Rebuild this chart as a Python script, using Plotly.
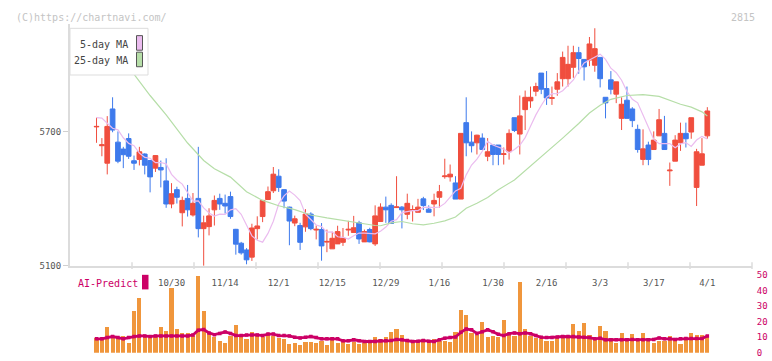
import pandas as pd
import plotly.graph_objects as go

# ---------------- data ----------------
jp_holidays = ["2025-10-13", "2025-11-03", "2025-11-24", "2025-12-31", "2026-01-01", "2026-01-02",
               "2026-01-12", "2026-02-11", "2026-02-23", "2026-03-20"]
trade_days = pd.bdate_range("2025-10-09", "2026-04-01", freq="C", holidays=jp_holidays)
dates = [f"{d.month}/{d.day}" for d in trade_days]

tick_labels = ["10/30", "11/14", "12/1", "12/15", "12/29", "1/16", "1/30", "2/16", "3/3", "3/17", "4/1"]

open_ = [5720, 5636, 5558, 5800, 5652, 5621, 5668, 5569, 5575, 5599,
         5570, 5536, 5539, 5479, 5376, 5440, 5337, 5401, 5327, 5401,
         5266, 5275, 5350, 5401, 5379, 5409, 5263, 5201, 5171, 5139,
         5266, 5320, 5396, 5435, 5500, 5440, 5362, 5291, 5280, 5274,
         5331, 5260, 5262, 5206, 5176, 5198, 5205, 5260, 5249, 5292,
         5207, 5262, 5198, 5298, 5362, 5370, 5360, 5362, 5330, 5348,
         5339, 5399, 5353, 5376, 5406, 5498, 5497, 5470, 5398, 5739,
         5652, 5649, 5670, 5589, 5639, 5639, 5597, 5609, 5761, 5688,
         5797, 5836, 5879, 5960, 5891, 5847, 5888, 5935, 5935, 5986,
         6051, 6021, 6018, 5995, 6030, 5852, 5930, 5866, 5758, 5839,
         5800, 5709, 5575, 5639, 5619, 5680, 5691, 5524, 5567, 5649,
         5691, 5697, 5450, 5549, 5680]
high = [5761, 5670, 5768, 5852, 5700, 5631, 5691, 5592, 5631, 5602,
        5572, 5594, 5570, 5580, 5469, 5453, 5409, 5461, 5425, 5631,
        5324, 5357, 5414, 5422, 5418, 5431, 5265, 5207, 5179, 5288,
        5321, 5394, 5454, 5541, 5531, 5442, 5364, 5324, 5292, 5353,
        5339, 5280, 5291, 5262, 5252, 5279, 5269, 5301, 5323, 5301,
        5262, 5270, 5370, 5379, 5409, 5379, 5500, 5367, 5422, 5370,
        5399, 5408, 5370, 5422, 5461, 5578, 5552, 5500, 5691, 5852,
        5700, 5685, 5691, 5670, 5639, 5639, 5628, 5709, 5761, 5860,
        5882, 5900, 5917, 5960, 5969, 5900, 5960, 6056, 6082, 6082,
        6077, 6021, 6121, 6160, 6030, 5852, 5969, 5921, 5852, 5900,
        5808, 5730, 5709, 5654, 5700, 5800, 5769, 5561, 5683, 5739,
        5739, 5761, 5622, 5670, 5808]
low = [5649, 5589, 5508, 5696, 5558, 5536, 5577, 5528, 5548, 5508,
       5428, 5519, 5450, 5359, 5357, 5378, 5276, 5320, 5320, 5227,
       5100, 5236, 5280, 5350, 5333, 5310, 5150, 5150, 5107, 5122,
       5218, 5295, 5394, 5425, 5430, 5357, 5192, 5277, 5171, 5252,
       5259, 5218, 5123, 5161, 5176, 5198, 5189, 5234, 5249, 5198,
       5207, 5205, 5189, 5298, 5292, 5289, 5360, 5267, 5308, 5298,
       5339, 5349, 5339, 5321, 5360, 5489, 5476, 5398, 5398, 5589,
       5606, 5597, 5619, 5567, 5549, 5549, 5552, 5574, 5697, 5597,
       5706, 5805, 5857, 5866, 5818, 5818, 5859, 5900, 5900, 5939,
       5957, 5927, 5991, 5966, 5896, 5758, 5865, 5826, 5706, 5758,
       5719, 5605, 5549, 5549, 5619, 5680, 5619, 5457, 5567, 5613,
       5628, 5667, 5367, 5549, 5667]
close = [5722, 5640, 5722, 5706, 5567, 5596, 5589, 5558, 5609, 5549,
         5497, 5592, 5528, 5376, 5422, 5406, 5392, 5350, 5379, 5266,
         5292, 5323, 5392, 5376, 5367, 5320, 5197, 5158, 5127, 5269,
         5278, 5392, 5431, 5509, 5450, 5389, 5300, 5310, 5205, 5331,
         5266, 5263, 5189, 5209, 5223, 5253, 5223, 5263, 5270, 5220,
         5253, 5207, 5323, 5362, 5350, 5289, 5363, 5350, 5379, 5351,
         5362, 5369, 5339, 5392, 5431, 5501, 5509, 5398, 5691, 5649,
         5636, 5683, 5619, 5609, 5597, 5597, 5600, 5691, 5704, 5769,
         5852, 5852, 5900, 5888, 5849, 5850, 5921, 6030, 5999, 6051,
         6025, 5988, 6090, 6069, 5935, 5827, 5888, 5921, 5821, 5758,
         5748, 5619, 5622, 5575, 5661, 5752, 5619, 5527, 5661, 5691,
         5667, 5761, 5609, 5600, 5791]

# first 5-day MA points (need closes before the window)
ma5_head = [5761, 5759, 5736, 5714, 5707]

# 25-day MA (candle number -> value)
ma25_at = [5, 8, 9, 11, 14, 15, 18, 21, 23, 26, 29, 32, 35, 38, 41, 44, 47, 50, 53, 54,
           56, 58, 60, 62, 64, 66, 68, 70, 72, 74, 76, 79, 82, 85, 88, 91, 93, 95, 97, 100,
           103, 106, 108, 110, 112, 114, 115]
ma25_val = [6050, 5953, 5921, 5860, 5774, 5743, 5648, 5570, 5533, 5496, 5431, 5392, 5368, 5351,
            5327, 5314, 5303, 5290, 5280, 5279, 5292, 5298, 5288, 5283, 5290, 5301, 5318, 5357,
            5379, 5405, 5440, 5483, 5544, 5609, 5670, 5735, 5782, 5817, 5843, 5860, 5864, 5856,
            5839, 5821, 5808, 5787, 5769]

volume = [9.4, 9.4, 16.7, 10.5, 9.4, 11.1, 6.3, 26.8, 35.5, 10.5,
          9.4, 10.5, 16.7, 14.2, 41.8, 15.1, 12.5, 12.5, 11.1, 49.4,
          26.8, 12.5, 10.5, 7.9, 6.3, 11.1, 18.0, 11.1, 8.6, 13.2,
          11.1, 10.5, 12.5, 11.1, 9.4, 8.6, 5.4, 6.3, 5.2, 6.9,
          6.9, 6.3, 7.5, 5.2, 10.0, 6.5, 6.9, 5.9, 6.9, 5.9,
          6.3, 6.9, 10.5, 8.6, 10.0, 13.6, 15.1, 11.7, 9.0, 7.3,
          7.3, 8.6, 7.9, 9.0, 7.9, 7.9, 6.7, 13.2, 27.4, 24.3,
          12.5, 11.7, 19.9, 10.5, 11.1, 10.5, 21.1, 11.5, 11.1, 45.6,
          15.3, 11.1, 9.4, 8.6, 7.9, 7.9, 9.6, 10.5, 11.1, 18.4,
          14.2, 19.0, 11.7, 8.6, 17.4, 14.0, 9.4, 6.3, 12.8, 9.4,
          12.1, 9.0, 12.8, 9.4, 6.3, 7.9, 7.9, 11.1, 9.0, 5.4,
          10.0, 12.5, 11.7, 11.7, 10.5]
ai_predict = [9.0, 9.0, 9.8, 10.5, 9.8, 9.0, 9.8, 10.5, 10.9, 10.9,
              10.5, 10.9, 10.9, 10.9, 10.9, 10.9, 10.9, 10.9, 11.5, 14.6,
              15.0, 12.8, 11.7, 12.5, 13.4, 12.5, 11.1, 11.1, 11.5, 11.5,
              11.5, 11.1, 12.1, 12.1, 11.1, 11.1, 10.9, 10.0, 9.6, 10.0,
              10.5, 9.8, 9.0, 9.0, 9.0, 9.0, 7.7, 7.7, 8.4, 7.7,
              7.3, 7.3, 7.3, 7.7, 7.7, 7.9, 8.6, 8.4, 7.9, 7.3,
              7.5, 7.9, 7.5, 7.3, 8.4, 9.4, 9.8, 10.2, 13.2, 15.3,
              14.8, 12.5, 13.6, 14.8, 13.6, 11.9, 11.1, 12.3, 12.8, 12.3,
              12.8, 12.3, 11.1, 10.0, 9.8, 9.8, 10.2, 10.5, 10.5, 10.5,
              10.2, 10.0, 9.8, 9.0, 9.4, 8.4, 8.4, 8.4, 8.4, 8.4,
              8.6, 8.4, 8.4, 8.4, 8.6, 9.6, 9.0, 9.0, 8.6, 9.0,
              9.2, 9.2, 9.2, 9.2, 10.9]

# ---------------- derived ----------------
ma5 = pd.Series(close, dtype=float).rolling(5).mean().shift(1)
ma5.iloc[:len(ma5_head)] = ma5_head
ma5 = ma5.round(1).tolist()
ma25_x = [dates[i - 1] for i in ma25_at]

# ---------------- styling ----------------
W, H = 772, 361
FONT = "DejaVu Sans Mono"
RED, BLUE = "#f04e3e", "#3e7aec"
CRIMSON = "#cc0066"
ORANGE = "#f0963c"
PINK, GREEN = "#ebbcef", "#b6dea8"


def px(x):
    return x / W


def py(y):
    return 1 - y / H


fig = go.Figure()
fig.add_trace(go.Candlestick(
    x=dates, open=open_, high=high, low=low, close=close,
    increasing=dict(line=dict(color=RED, width=1), fillcolor=RED),
    decreasing=dict(line=dict(color=BLUE, width=1), fillcolor=BLUE),
    whiskerwidth=0, showlegend=False, hoverinfo="skip",
    xaxis="x", yaxis="y"))
fig.add_trace(go.Scatter(x=dates, y=ma5, mode="lines", line=dict(color=PINK, width=1.2),
                         showlegend=False, hoverinfo="skip", xaxis="x", yaxis="y"))
fig.add_trace(go.Scatter(x=ma25_x, y=ma25_val, mode="lines", line=dict(color=GREEN, width=1.2),
                         showlegend=False, hoverinfo="skip", xaxis="x", yaxis="y"))
fig.add_trace(go.Bar(x=dates, y=volume, marker=dict(color=ORANGE, line=dict(width=0)), width=0.78,
                     showlegend=False, hoverinfo="skip", xaxis="x2", yaxis="y2"))
fig.add_trace(go.Scatter(x=dates, y=ai_predict, mode="lines+markers",
                         line=dict(color=CRIMSON, width=2.8),
                         marker=dict(symbol="square", size=3.5, color=CRIMSON),
                         showlegend=False, hoverinfo="skip", xaxis="x2", yaxis="y2"))

xdom = [px(70), px(752)]
xrange = [-4.95, 122.34]
fig.update_layout(
    width=W, height=H, margin=dict(l=0, r=0, t=0, b=0),
    paper_bgcolor="white", plot_bgcolor="white",
    font=dict(family=FONT, size=9, color="#555"),
    boxgap=0.12, boxgroupgap=0,
    bargap=0,
    xaxis=dict(domain=xdom, type="category", range=xrange, anchor="y",
               showline=True, linecolor="#dcdcdc", linewidth=2,
               tickmode="array", tickvals=tick_labels, ticktext=tick_labels,
               ticks="outside", ticklen=7, tickcolor="rgba(0,0,0,0)",
               tickfont=dict(family=FONT, size=9, color="#555"),
               showgrid=False, zeroline=False, rangeslider=dict(visible=False),
               fixedrange=True),
    yaxis=dict(domain=[py(268.3), py(20)], range=[5100, 6177], anchor="x",
               showline=True, linecolor="#dcdcdc", linewidth=2,
               tickmode="array", tickvals=[5100, 5700],
               ticks="outside", ticklen=5, tickcolor="#d0d0d0",
               tickfont=dict(family=FONT, size=9, color="#555"),
               showgrid=False, zeroline=False, fixedrange=True),
    xaxis2=dict(domain=xdom, type="category", matches="x", anchor="y2",
                showline=False, showticklabels=False, ticks="",
                showgrid=False, zeroline=False, fixedrange=True),
    yaxis2=dict(domain=[py(357.7), py(278)], range=[0, 50], anchor="x2", side="right",
                tickmode="array", tickvals=[0, 10, 20, 30, 40, 50],
                ticks="outside", ticklen=2, tickcolor="rgba(0,0,0,0)",
                tickfont=dict(family=FONT, size=9, color=CRIMSON),
                showline=False, showgrid=False, zeroline=False, fixedrange=True),
)

shapes = []
# decorative tick marks on the date axis
for k in range(1, 12):
    xx = 70 + 62 * k
    shapes.append(dict(type="line", xref="paper", yref="paper",
                       x0=px(xx), x1=px(xx), y0=py(264.5), y1=py(271.5),
                       line=dict(color="#dcdcdc", width=1.5), layer="above"))
# MA legend box
shapes.append(dict(type="rect", xref="paper", yref="paper",
                   x0=px(70), x1=px(148), y0=py(72), y1=py(24),
                   fillcolor="white", line=dict(color="#dddddd", width=1), layer="above"))
shapes.append(dict(type="rect", xref="paper", yref="paper",
                   x0=px(136.5), x1=px(142.5), y0=py(46.5), y1=py(31.5),
                   fillcolor=PINK, line=dict(color="#555", width=1), layer="above"))
shapes.append(dict(type="rect", xref="paper", yref="paper",
                   x0=px(136.5), x1=px(142.5), y0=py(63.5), y1=py(48.5),
                   fillcolor=GREEN, line=dict(color="#555", width=1), layer="above"))
# AI-Predict swatch
shapes.append(dict(type="rect", xref="paper", yref="paper",
                   x0=px(142), x1=px(148.5), y0=py(292.5), y1=py(277.5),
                   fillcolor=CRIMSON, line=dict(width=0), layer="above"))
fig.update_layout(shapes=shapes)

ann = [
    dict(text="(C)https://chartnavi.com/", x=px(14), y=py(12.5), xanchor="left",
         font=dict(family=FONT, size=10, color="#c4c4c4")),
    dict(text="2815", x=px(757), y=py(12.5), xanchor="right",
         font=dict(family=FONT, size=10, color="#c4c4c4")),
    dict(text="5-day MA", x=px(130), y=py(41), xanchor="right",
         font=dict(family=FONT, size=10, color="#444")),
    dict(text="25-day MA", x=px(130), y=py(57), xanchor="right",
         font=dict(family=FONT, size=10, color="#444")),
    dict(text="AI-Predict", x=px(75.5), y=py(286), xanchor="left",
         font=dict(family=FONT, size=10, color=CRIMSON)),
]
for a in ann:
    a.update(xref="paper", yref="paper", yanchor="middle", showarrow=False)
fig.update_layout(annotations=ann)

fig.write_html("out.html", config={"displayModeBar": False, "staticPlot": True},
               post_script="document.body.style.margin='0px';document.body.style.padding='0px';")
